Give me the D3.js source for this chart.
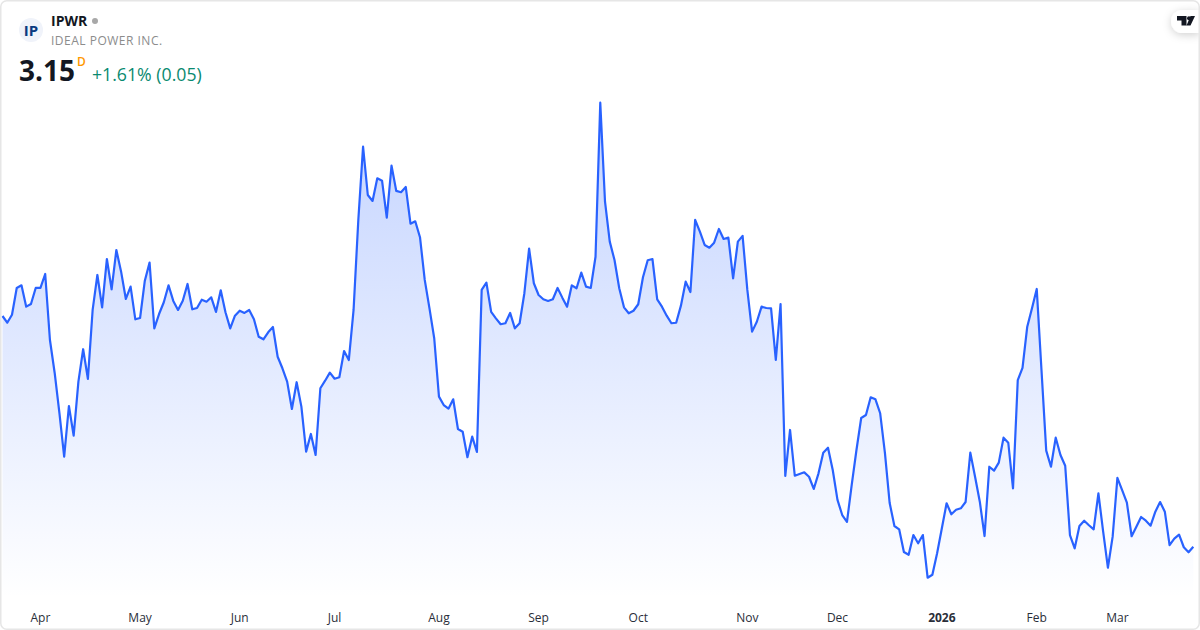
<!DOCTYPE html>
<html><head><meta charset="utf-8">
<script src="https://cdn.jsdelivr.net/npm/d3@7"></script>
<style>html,body{margin:0;padding:0;background:#fff}svg{display:block}text{font-family:"Open Sans",sans-serif}</style>
</head><body><svg id="c" width="1200" height="630"></svg>
<script>
const symbol="IPWR", company="IDEAL POWER INC.", lastPrice="3.15", interval="D", change="+1.61% (0.05)";
const prices=[5.247,5.186,5.259,5.502,5.526,5.332,5.356,5.502,5.502,5.629,
5.029,4.729,4.365,3.968,4.429,4.159,4.650,4.945,4.675,5.302,
5.62,5.326,5.765,5.490,5.847,5.650,5.402,5.514,5.217,5.229,
5.568,5.732,5.135,5.265,5.372,5.526,5.384,5.302,5.386,5.538,
5.308,5.32,5.395,5.377,5.417,5.284,5.481,5.281,5.135,5.25,
5.295,5.275,5.302,5.217,5.059,5.035,5.099,5.147,4.877,4.772,
4.650,4.402,4.645,4.423,4.014,4.175,3.984,4.590,4.659,4.732,
4.677,4.690,4.929,4.847,5.302,6.12,6.786,6.347,6.293,6.499,
6.477,6.141,6.614,6.384,6.372,6.42,6.086,6.108,5.963,5.575,
5.317,5.045,4.514,4.438,4.405,4.49,4.22,4.195,3.963,4.15,
4.011,5.484,5.55,5.284,5.226,5.172,5.181,5.275,5.135,5.181,
5.454,5.859,5.545,5.438,5.399,5.384,5.399,5.502,5.414,5.332,
5.526,5.499,5.641,5.514,5.502,5.786,7.186,6.286,5.923,5.756,
5.499,5.326,5.272,5.295,5.354,5.599,5.754,5.765,5.399,5.332,
5.25,5.181,5.186,5.341,5.559,5.465,6.12,6.014,5.893,5.868,
5.914,6.038,5.947,5.959,5.59,5.923,5.975,5.484,5.105,5.195,
5.332,5.32,5.317,4.847,5.356,3.793,4.211,3.795,3.811,3.826,
3.786,3.675,3.817,4.005,4.05,3.847,3.575,3.438,3.375,3.711,
4.029,4.32,4.347,4.508,4.49,4.363,4.002,3.547,3.338,3.308,
3.102,3.077,3.256,3.181,3.256,2.868,2.895,3.09,3.317,3.545,
3.445,3.486,3.499,3.556,4.005,3.786,3.559,3.247,3.877,3.841,
3.914,4.141,4.095,3.681,4.665,4.775,5.15,5.317,5.493,4.756,
4.023,3.877,4.141,3.984,3.886,3.256,3.135,3.338,3.386,3.345,
3.308,3.635,3.286,2.959,3.241,3.775,3.665,3.55,3.245,3.332,
3.42,3.386,3.341,3.468,3.556,3.468,3.165,3.223,3.259,3.145,
3.099,3.15];
const tickLabels=["Apr","May","Jun","Jul","Aug","Sep","Oct","Nov","Dec","2026","Feb","Mar"];
const tickIndex=[8,29,50,70,92,113,134,157,176,198,218,235];

const svg=d3.select("#c");
const x=d3.scaleLinear().domain([0,prices.length-1]).range([2.5,1193.3]);
const y=d3.scaleLinear().domain([3.15,7.186]).range([546.7,102.7]);
const floorY=598;

const defs=svg.append("defs");
const g=defs.append("linearGradient").attr("id","fill").attr("gradientUnits","userSpaceOnUse")
 .attr("x1",0).attr("x2",0).attr("y1",102).attr("y2",floorY);
g.append("stop").attr("offset",0).attr("stop-color","#2962ff").attr("stop-opacity",0.28);
g.append("stop").attr("offset",1).attr("stop-color","#2962ff").attr("stop-opacity",0.0);
const sh=defs.append("filter").attr("id","sh").attr("x","-40%").attr("y","-60%").attr("width","180%").attr("height","220%");
sh.append("feDropShadow").attr("dx",0).attr("dy",2).attr("stdDeviation",4).attr("flood-color","#000").attr("flood-opacity",0.18);

const area=d3.area().x((d,i)=>x(i)).y0(floorY).y1(d=>y(d));
const line=d3.line().x((d,i)=>x(i)).y(d=>y(d));
svg.append("path").datum(prices).attr("d",area).attr("fill","url(#fill)");
svg.append("path").datum(prices).attr("d",line).attr("fill","none").attr("stroke","#2962ff").attr("stroke-width",2.2).attr("stroke-linejoin","round");

const axis=d3.axisBottom(x).tickValues(tickIndex).tickSize(0).tickPadding(0).tickFormat((d,i)=>tickLabels[i]);
const ax=svg.append("g").attr("transform","translate(-0.5,613)").call(axis);
ax.select(".domain").remove();
ax.selectAll("text").attr("font-size",12).attr("fill","#2a2e39").attr("font-weight",d=>d===198?700:400)
  .style("font-family",'"Open Sans",sans-serif');

// logo
svg.append("path").attr("d","M1200 10 H1182.5 A11.5 11.5 0 0 0 1182.5 33 H1200 Z").attr("fill","#fff").attr("filter","url(#sh)");
svg.append("path").attr("d","M1177 16 H1186.5 V25.5 H1181.5 V20.5 H1177 Z M1190.5 16 H1195 L1190.5 25.5 H1186.5 Z").attr("fill","#131722");
svg.append("circle").attr("cx",1189).attr("cy",18.3).attr("r",2).attr("fill","#131722");

// frame
svg.append("rect").attr("x",0.75).attr("y",0.75).attr("width",1198.5).attr("height",628.5).attr("rx",6)
 .attr("fill","none").attr("stroke","#e6e6e6").attr("stroke-width",1.5);

// header
svg.append("circle").attr("cx",31).attr("cy",30).attr("r",12).attr("fill","#f0f3fa");
svg.append("text").attr("x",31).attr("y",36).attr("text-anchor","middle").attr("font-size",15).attr("font-weight",700).attr("fill","#0a3a80").text("IP");
svg.append("text").attr("x",51).attr("y",26).attr("font-size",14).attr("font-weight",700).attr("fill","#131722").text(symbol);
svg.append("circle").attr("cx",95).attr("cy",21).attr("r",3).attr("fill","#a8a8a8");
svg.append("text").attr("x",51).attr("y",45).attr("font-size",12).attr("fill","#8c8c8c").attr("letter-spacing",0.5).text(company);
svg.append("text").attr("x",19).attr("y",81).attr("font-size",28).attr("font-weight",700).attr("fill","#131722").text(lastPrice);
svg.append("text").attr("x",77).attr("y",66).attr("font-size",12).attr("font-weight",600).attr("fill","#ff9800").text(interval);
svg.append("text").attr("x",92).attr("y",81).attr("font-size",17.7).attr("fill","#0a8a70").text(change);
</script></body></html>
